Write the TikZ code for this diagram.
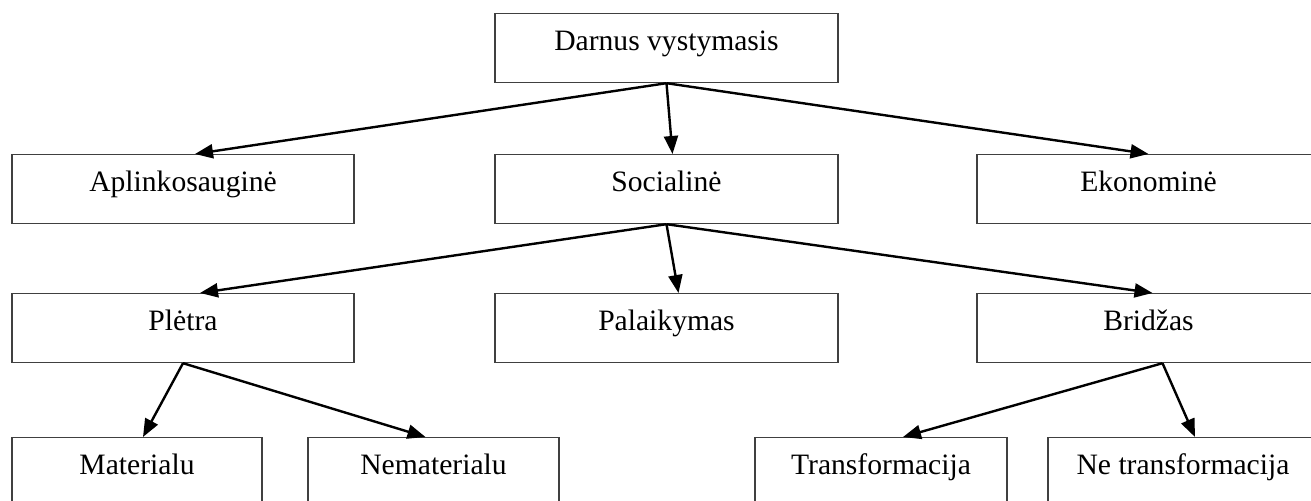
\documentclass[tikz,border=0pt]{standalone}
\usepackage{fontspec}
\setmainfont{Liberation Serif}
\usetikzlibrary{arrows.meta}

\tikzset{
  box/.style={draw=black!75, line width=0.6pt, anchor=north, inner xsep=0pt, inner ysep=0pt,
    text height=18.5pt, text depth=16pt, align=center, font=\fontsize{14.8}{17}\selectfont},
  lowbox/.style={box, text depth=30pt},
  link/.style={-{Triangle[length=9pt,width=7pt]}, line width=1.2pt}
}

\begin{document}
\begin{tikzpicture}[x=0.5pt,y=-0.5pt]
  \useasboundingbox (0,0) rectangle (1311,501);

  % top
  \node[box, minimum width=171.5pt] (darnus) at (666.5,13) {Darnus vystymasis};

  % second row
  \node[box, minimum width=171pt] (aplink) at (183,154) {Aplinkosauginė};
  \node[box, minimum width=171.5pt] (social) at (666.5,154) {Socialinė};
  \node[box, minimum width=171.5pt] (ekon) at (1148.5,154) {Ekonominė};

  % third row
  \node[box, minimum width=171pt] (pletra) at (183,293) {Plėtra};
  \node[box, minimum width=171.5pt] (palaik) at (666.5,293) {Palaikymas};
  \node[box, minimum width=171.5pt] (bridzas) at (1148.5,293) {Bridžas};

  % bottom row
  \node[lowbox, minimum width=125pt] (mater) at (137,437) {Materialu};
  \node[lowbox, minimum width=125.5pt] (nemater) at (433.5,437) {Nematerialu};
  \node[lowbox, minimum width=126pt] (transf) at (881,437) {Transformacija};
  \node[lowbox, minimum width=135pt] (netransf) at (1183,437) {Ne transformacija};

  \draw[link] (darnus.south) -- ([xshift=6pt]aplink.north);
  \draw[link] (darnus.south) -- ([xshift=3pt]social.north);
  \draw[link] (darnus.south) -- (ekon.north);

  \draw[link] (social.south) -- ([xshift=8.5pt]pletra.north);
  \draw[link] (social.south) -- ([xshift=6pt]palaik.north);
  \draw[link] (social.south) -- ([xshift=2pt]bridzas.north);

  \draw[link] (pletra.south) -- ([xshift=3pt]mater.north);
  \draw[link] (pletra.south) -- ([xshift=-4pt]nemater.north);

  \draw[link] ([xshift=7pt]bridzas.south) -- ([xshift=11pt]transf.north);
  \draw[link] ([xshift=7pt]bridzas.south) -- ([xshift=6pt]netransf.north);
\end{tikzpicture}
\end{document}
